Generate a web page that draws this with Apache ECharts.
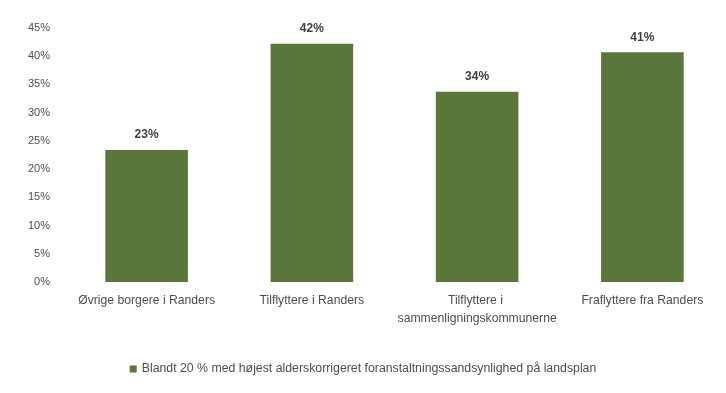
<!DOCTYPE html>
<html>
<head>
<meta charset="utf-8">
<script src="https://cdn.jsdelivr.net/npm/echarts@6/dist/echarts.min.js"></script>
<style>html,body{margin:0;padding:0;background:#fff}#c{width:726px;height:393px}</style>
</head>
<body>
<div id="c"></div>
<script>
var categories = ["Øvrige borgere i Randers", "Tilflyttere i Randers", "Tilflyttere i sammenligningskommunerne", "Fraflyttere fra Randers"];
var seriesName = "Blandt 20 % med højest alderskorrigeret foranstaltningssandsynlighed på landsplan";
var values = [23.4, 42.2, 33.7, 40.7];
var yTicks = [0, 5, 10, 15, 20, 25, 30, 35, 40, 45];

var font = "'Liberation Sans', Arial, sans-serif";
var chart = echarts.init(document.getElementById('c'), null, {renderer: 'canvas'});
chart.setOption({
  animation: false,
  textStyle: {fontFamily: font},
  grid: {left: 64, right: 1, top: 28, bottom: 111, containLabel: false},
  legend: {
    bottom: 13, left: 'center',
    itemWidth: 7, itemHeight: 7, itemGap: 4,
    icon: 'rect',
    textStyle: {fontSize: 12.3, color: '#4d4d4d', fontFamily: font},
    data: [seriesName]
  },
  xAxis: {
    type: 'category', data: categories,
    axisLine: {show: false}, axisTick: {show: false},
    axisLabel: {fontSize: 12.2, color: '#4d4d4d', margin: 10, interval: 0, width: 160, overflow: 'break', lineHeight: 18, fontFamily: font}
  },
  yAxis: {
    type: 'value', min: yTicks[0], max: yTicks[yTicks.length - 1], interval: 5,
    splitLine: {show: false}, axisLine: {show: false}, axisTick: {show: false},
    axisLabel: {fontSize: 11, color: '#4d4d4d', margin: 14, formatter: function (v) { return v + '%'; }, fontFamily: font}
  },
  series: [{
    name: seriesName, type: 'bar', data: values, barWidth: '50%',
    itemStyle: {color: '#5B763B'},
    label: {show: true, position: 'top', distance: 9, fontSize: 12, fontWeight: 'bold', color: '#404040',
      formatter: function (p) { return Math.round(p.value) + '%'; }, fontFamily: font}
  }]
});
</script>
</body>
</html>
